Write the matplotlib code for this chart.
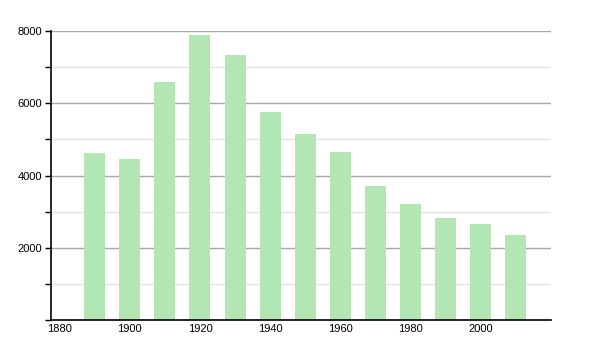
import matplotlib
matplotlib.use("Agg")
import matplotlib.pyplot as plt
from matplotlib.ticker import MultipleLocator

years = [1890, 1900, 1910, 1920, 1930, 1940, 1950, 1960, 1970, 1980, 1990, 2000, 2010]
population = [4610, 4452, 6600, 7881, 7337, 5752, 5143, 4646, 3705, 3217, 2821, 2664, 2350]
x_ticks = [1880, 1900, 1920, 1940, 1960, 1980, 2000]
y_ticks = [2000, 4000, 6000, 8000]

plt.rcParams['font.family'] = ['Liberation Sans', 'DejaVu Sans']

fig = plt.figure(figsize=(6, 3.5), dpi=100)
ax = fig.add_axes([0.0842, 0.0857, 0.8338, 0.8257])

ax.bar(years, population, width=6, color='#b3e6b3', zorder=2)

ax.set_xlim(1877.4, 2020)
ax.set_ylim(0, 8000)
ax.set_xticks(x_ticks)
ax.set_yticks(y_ticks)
ax.yaxis.set_minor_locator(MultipleLocator(1000))
ax.grid(axis='y', which='major', color='#a8a8a8', linewidth=1, zorder=1)
ax.grid(axis='y', which='minor', color='#e4e4e4', linewidth=1, zorder=1)
ax.set_axisbelow(True)

for s in ['top', 'right']:
    ax.spines[s].set_visible(False)
ax.spines['left'].set_linewidth(1.2)
ax.spines['bottom'].set_linewidth(1.2)

ax.tick_params(axis='x', length=0, labelsize=8, pad=3)
ax.tick_params(axis='y', which='major', length=4, width=1, labelsize=8, pad=2)
ax.tick_params(axis='y', which='minor', length=4, width=1)

fig.savefig('out.png', dpi=100)
